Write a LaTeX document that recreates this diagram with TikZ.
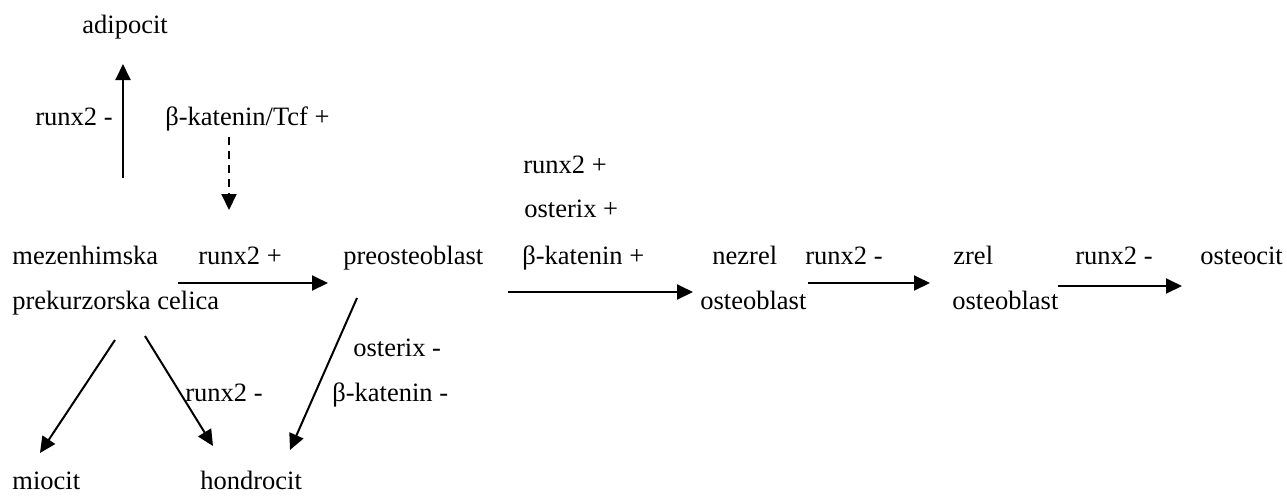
\documentclass[tikz,border=0pt]{standalone}
\usepackage{fontspec}
\setmainfont{Liberation Serif}
\usetikzlibrary{arrows.meta}
\begin{document}
\begin{tikzpicture}[x=0.5pt,y=-0.5pt,
  lbl/.style={anchor=base west,inner sep=0pt,font=\fontsize{13.25}{16}\selectfont},
  conn/.style={line width=1pt,-{Triangle[length=8pt,width=7.5pt]}},
  dconn/.style={conn,dash pattern=on 4pt off 3pt}]
\useasboundingbox (0,0) rectangle (1287,495);

% cells
\node[lbl] (adi) at (82,33) {adipocit};
\node[lbl] (mez1) at (12,264) {mezenhimska};
\node[lbl] (mez2) at (12,309) {prekurzorska celica};
\node[lbl] (pre) at (343,264) {preosteoblast};
\node[lbl] (nez1) at (712,264) {nezrel};
\node[lbl] (nez2) at (700,309) {osteoblast};
\node[lbl] (zr1) at (953,264) {zrel};
\node[lbl] (zr2) at (952,309) {osteoblast};
\node[lbl] (ost) at (1200,264) {osteocit};
\node[lbl] (mio) at (12,489) {miocit};
\node[lbl] (hon) at (200,489) {hondrocit};

% factor labels
\node[lbl] (l1) at (35,125) {runx2 -};
\node[lbl] (l2) at (165,125) {β-katenin/Tcf +};
\node[lbl] (l3) at (198,264) {runx2 +};
\node[lbl] (l4) at (523,173) {runx2 +};
\node[lbl] (l5) at (524,217) {osterix +};
\node[lbl] (l6) at (522,264) {β-katenin +};
\node[lbl] (l7) at (805,264) {runx2 -};
\node[lbl] (l8) at (1075,264) {runx2 -};
\node[lbl] (l9) at (353,356) {osterix -};
\node[lbl] (l10) at (332,401) {β-katenin -};
\node[lbl] (l11) at (185,401) {runx2 -};

% connector end points
\coordinate (a0) at (123,178); \coordinate (a1) at (123,64);
\coordinate (b0) at (229,137); \coordinate (b1) at (229,210);
\coordinate (c0) at (178,283); \coordinate (c1) at (328,283);
\coordinate (d0) at (508,292); \coordinate (d1) at (693,292);
\coordinate (e0) at (808,283); \coordinate (e1) at (930,283);
\coordinate (f0) at (1058,286); \coordinate (f1) at (1182,286);
\coordinate (g0) at (115,340); \coordinate (g1) at (40,453);
\coordinate (h0) at (145,336); \coordinate (h1) at (213,446);
\coordinate (k0) at (357,298); \coordinate (k1) at (290,450);

% connectors
\draw[conn] (a0) -- (a1);
\draw[dconn] (b0) -- (b1);
\draw[conn] (c0) -- (c1);
\draw[conn] (d0) -- (d1);
\draw[conn] (e0) -- (e1);
\draw[conn] (f0) -- (f1);
\draw[conn] (g0) -- (g1);
\draw[conn] (h0) -- (h1);
\draw[conn] (k0) -- (k1);
\end{tikzpicture}
\end{document}
